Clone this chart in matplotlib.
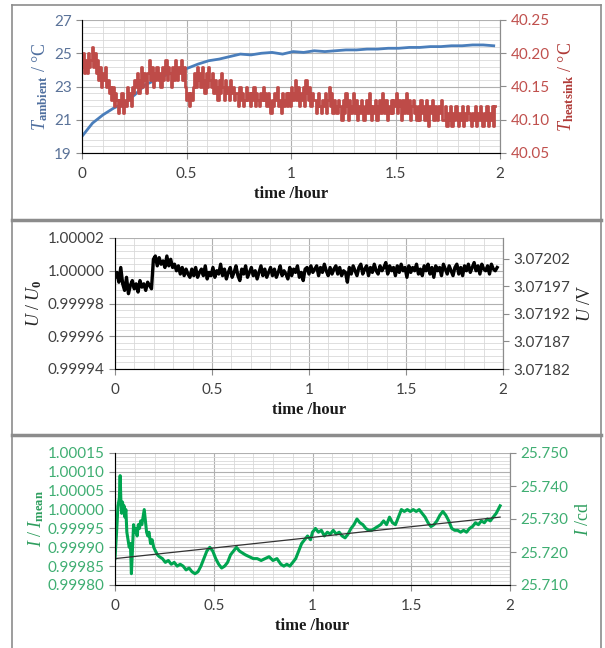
import numpy as np
import matplotlib
matplotlib.use('Agg')
import matplotlib.pyplot as plt
from matplotlib.ticker import MultipleLocator, FixedLocator, FormatStrFormatter
from matplotlib.lines import Line2D

# ---- panel 1: temperatures ----
t_amb = np.linspace(0, 1.97, 40)
T_ambient = [20.0, 20.8, 21.3, 21.7, 22.0, 22.5, 23.1, 23.4, 23.7, 23.9,
             24.1, 24.35, 24.55, 24.65, 24.8, 24.95, 24.9, 25.0, 25.05, 24.95,
             25.1, 25.05, 25.15, 25.1, 25.15, 25.2, 25.2, 25.25, 25.25, 25.3,
             25.3, 25.35, 25.35, 25.4, 25.4, 25.45, 25.45, 25.5, 25.5, 25.45]

T_heatsink = [
    40.18, 40.20, 40.17, 40.19, 40.17, 40.20, 40.18, 40.19, 40.21, 40.18, 40.20, 40.17, 40.19, 40.16, 40.18, 40.15, 40.17, 40.16, 40.18, 40.15,
    40.16, 40.14, 40.15, 40.13, 40.15, 40.12, 40.14, 40.13, 40.11, 40.13, 40.12, 40.14, 40.11, 40.13, 40.12, 40.15, 40.13, 40.14, 40.12, 40.15,
    40.14, 40.16, 40.15, 40.17, 40.14, 40.16, 40.18, 40.15, 40.17, 40.16, 40.14, 40.17, 40.19, 40.16, 40.18, 40.15, 40.17, 40.16, 40.18, 40.16,
    40.17, 40.15, 40.18, 40.16, 40.17, 40.19, 40.16, 40.18, 40.17, 40.15, 40.18, 40.16, 40.19, 40.17, 40.16, 40.18, 40.17, 40.19, 40.16, 40.18,
    40.15, 40.13, 40.14, 40.12, 40.14, 40.13, 40.15, 40.17, 40.15, 40.18, 40.16, 40.17, 40.15, 40.18, 40.16, 40.14, 40.17, 40.15, 40.18, 40.16,
    40.15, 40.17, 40.14, 40.16, 40.15, 40.13, 40.16, 40.14, 40.17, 40.15, 40.13, 40.16, 40.14, 40.15, 40.13, 40.16, 40.14, 40.15, 40.13, 40.14,
    40.14, 40.12, 40.15, 40.13, 40.14, 40.12, 40.13, 40.15, 40.13, 40.14, 40.12, 40.14, 40.13, 40.15, 40.12, 40.14, 40.13, 40.12, 40.14, 40.13,
    40.15, 40.13, 40.14, 40.12, 40.14, 40.13, 40.11, 40.13, 40.12, 40.14, 40.13, 40.15, 40.12, 40.13, 40.11, 40.14, 40.12, 40.13, 40.14, 40.12,
    40.14, 40.12, 40.15, 40.13, 40.14, 40.16, 40.13, 40.15, 40.12, 40.14, 40.13, 40.15, 40.12, 40.16, 40.14, 40.13, 40.15, 40.12, 40.14, 40.13,
    40.13, 40.11, 40.12, 40.14, 40.12, 40.11, 40.13, 40.12, 40.14, 40.11, 40.13, 40.15, 40.12, 40.14, 40.11, 40.13, 40.12, 40.11, 40.13, 40.12,
    40.12, 40.10, 40.13, 40.11, 40.14, 40.12, 40.10, 40.13, 40.11, 40.12, 40.14, 40.11, 40.13, 40.10, 40.12, 40.11, 40.13, 40.12, 40.10, 40.12,
    40.13, 40.11, 40.14, 40.12, 40.10, 40.12, 40.11, 40.13, 40.10, 40.12, 40.13, 40.11, 40.14, 40.12, 40.11, 40.13, 40.10, 40.12, 40.11, 40.13,
    40.11, 40.13, 40.12, 40.14, 40.11, 40.13, 40.12, 40.10, 40.13, 40.11, 40.12, 40.14, 40.11, 40.13, 40.10, 40.12, 40.13, 40.11, 40.12, 40.10,
    40.12, 40.10, 40.13, 40.11, 40.12, 40.10, 40.13, 40.11, 40.09, 40.12, 40.11, 40.13, 40.10, 40.12, 40.11, 40.10, 40.12, 40.11, 40.13, 40.10,
    40.10, 40.12, 40.09, 40.11, 40.10, 40.12, 40.09, 40.11, 40.10, 40.12, 40.10, 40.09, 40.11, 40.10, 40.12, 40.09, 40.11, 40.10, 40.12, 40.11,
    40.10, 40.09, 40.11, 40.10, 40.12, 40.09, 40.11, 40.10, 40.12, 40.11, 40.09, 40.11, 40.10, 40.12, 40.09, 40.11, 40.10, 40.12, 40.09, 40.12]
t_heat = np.linspace(0, 1.975, len(T_heatsink))

# ---- panel 2: voltage, deviation from U0 in ppm ----
U_ppm = [
    -4, -1, -7, 2, -8, -12, -4, -14, -9, -6, -11, -8, -13, -6, -10, -8, -12, -7, -9, -11,
    7, 9, 3, 8, 4, 6, 2, 9, 3, 7, 2, 4, 0, 3, -2, 2, -3, 1, -2, -4,
    1, -3, 2, -4, -1, 1, -3, 3, -5, -1, -3, 2, -4, 0, -2, 4, -3, 1, -5, -1,
    2, -4, -1, 3, -3, -6, 1, -2, 3, -4, -1, 2, -3, 0, -5, -1, 3, -3, 1, -4,
    -1, 2, -3, 1, -4, -1, 3, -3, 0, -2, -5, 2, -3, 1, -1, 3, -4, -1, -6, 1,
    2, -2, 3, -1, 1, 3, -3, 2, -1, 4, 0, -3, 2, -2, 1, 3, -2, 2, -3, 0,
    -1, -7, 2, -2, 3, 0, -3, 2, 4, -2, 1, 3, -3, 2, -1, 4, 0, -2, 3, 0,
    2, 5, -2, 3, 0, 2, -3, 3, -1, 4, 0, 2, -4, 3, -1, 2, 0, 4, -2, 1,
    -3, 3, 0, 4, -2, 2, -4, 3, 0, 2, -3, 4, 1, -2, 3, 0, -3, 2, 4, -2,
    2, -3, 3, 0, 4, -1, 2, 5, 0, 3, -2, 4, 1, 0, 3, -2, 4, 1, 0, 2]
t_U = np.linspace(0, 1.97, len(U_ppm))
U_ratio = 1 + np.array(U_ppm) * 1e-6

# ---- panel 3: luminous intensity, deviation from mean in ppm ----
t_I = [0.000, 0.008, 0.015, 0.022, 0.026, 0.030, 0.034, 0.038, 0.042, 0.046,
       0.050, 0.055, 0.060, 0.066, 0.072, 0.078, 0.083, 0.088, 0.094, 0.100,
       0.106, 0.112, 0.118, 0.124, 0.130, 0.136, 0.142, 0.148, 0.154, 0.160,
       0.166, 0.172, 0.180, 0.188, 0.196, 0.205, 0.215, 0.225, 0.240, 0.255,
       0.270, 0.285, 0.300, 0.315, 0.330, 0.345, 0.360, 0.375, 0.390, 0.405,
       0.420, 0.435, 0.450, 0.465, 0.480, 0.495, 0.510, 0.525, 0.540, 0.555,
       0.570, 0.585, 0.600, 0.615, 0.630, 0.645, 0.660, 0.680, 0.700, 0.720,
       0.740, 0.760, 0.780, 0.800, 0.820, 0.840, 0.855, 0.870, 0.885, 0.900,
       0.915, 0.930, 0.945, 0.960, 0.975, 0.990, 1.000, 1.015, 1.030, 1.045,
       1.060, 1.075, 1.090, 1.105, 1.120, 1.135, 1.150, 1.165, 1.180, 1.195,
       1.210, 1.225, 1.240, 1.255, 1.270, 1.285, 1.300, 1.315, 1.330, 1.345,
       1.360, 1.375, 1.390, 1.405, 1.420, 1.435, 1.450, 1.465, 1.480, 1.495,
       1.510, 1.525, 1.540, 1.555, 1.570, 1.585, 1.600, 1.615, 1.630, 1.645,
       1.660, 1.675, 1.690, 1.705, 1.720, 1.735, 1.750, 1.765, 1.780, 1.795,
       1.810, 1.825, 1.840, 1.855, 1.870, 1.885, 1.900, 1.915, 1.930, 1.950]
I_ppm = [-130, -60, 10, 30, 90, 20, -10, 20, 0, 10,
         -20, 0, -60, -80, -100, -90, -170, -110, -40, -60,
         -50, -70, -40, -50, -30, -40, -20, 0, -30, -60,
         -70, -60, -90, -80, -100, -110, -120, -125, -130, -140,
         -135, -145, -140, -150, -145, -150, -160, -155, -165, -170,
         -165, -150, -130, -110, -100, -110, -130, -145, -155, -150,
         -140, -120, -110, -100, -110, -115, -120, -125, -130, -130,
         -135, -130, -125, -135, -130, -145, -150, -145, -150, -140,
         -130, -110, -90, -80, -70, -80, -60, -50, -60, -55,
         -70, -60, -65, -55, -65, -60, -70, -75, -65, -50,
         -40, -25, -35, -40, -50, -55, -55, -50, -45, -40,
         -30, -40, -20, -35, -40, -20, 0, -5, 0, -5,
         0, -5, 0, -10, -20, -35, -45, -40, -30, -15,
         -5, -15, -30, -50, -55, -55, -60, -55, -60, -50,
         -45, -35, -40, -30, -35, -25, -30, -20, -10, 10]
I_ratio = 1 + np.array(I_ppm) * 1e-6
trend_t = [0.0, 1.95]
trend_ppm = [-130, -20]
trend_ratio = 1 + np.array(trend_ppm) * 1e-6

# ---- style ----
plt.rcParams['mathtext.fontset'] = 'custom'
plt.rcParams['mathtext.rm'] = 'Liberation Serif'
plt.rcParams['mathtext.it'] = 'Liberation Serif:italic'
plt.rcParams['mathtext.bf'] = 'Liberation Serif:bold'
plt.rcParams['font.family'] = ['Lato', 'DejaVu Sans']

W, H = 605, 648
fig = plt.figure(figsize=(W / 100, H / 100), dpi=100)


def box(x0, y0, x1, y1):
    # pixel box (top-left origin) -> figure fraction
    return [x0 / W, 1 - y1 / H, (x1 - x0) / W, (y1 - y0) / H]


def style(ax, ymaj, ymin, tickcol):
    ax.set_xlim(0, 2)
    ax.xaxis.set_major_locator(MultipleLocator(0.5))
    ax.xaxis.set_minor_locator(MultipleLocator(0.1))
    ax.yaxis.set_major_locator(ymaj)
    ax.yaxis.set_minor_locator(ymin)
    ax.grid(which='major', color='#b0b0b0', lw=0.8)
    ax.grid(which='minor', color='#d9d9d9', lw=0.6)
    ax.set_axisbelow(True)
    ax.spines['top'].set_visible(False)
    for s in ['left', 'right', 'bottom']:
        ax.spines[s].set_color('#8c8c8c')
    ax.tick_params(which='major', direction='out', length=4, color='#8c8c8c',
                   labelsize=11)
    ax.tick_params(which='minor', length=0)
    ax.tick_params(axis='y', labelcolor=tickcol)
    ax.tick_params(axis='x', labelcolor='#404040', pad=6)
    ax.xaxis.set_major_formatter(FormatStrFormatter('%g'))
    ax.set_xlabel('time /hour', family='Liberation Serif', fontweight='bold',
                  fontsize=12, color='#1a1a1a', labelpad=4)


def style_right(ax, tickcol):
    ax.spines['top'].set_visible(False)
    ax.spines['right'].set_color('#8c8c8c')
    ax.tick_params(which='major', direction='out', length=4, color='#8c8c8c',
                   labelsize=11, labelcolor=tickcol)
    ax.tick_params(which='minor', length=0)


lab_font = dict(family='Liberation Serif', fontsize=13)

# panel 1
ax1 = fig.add_axes(box(82, 20, 500, 153))
ax1.plot(t_amb, T_ambient, color='#4a7ebb', lw=2)
ax1.set_ylim(19, 27)
style(ax1, MultipleLocator(2, offset=1), MultipleLocator(0.4, offset=0.2), '#5b7399')
ax1.set_ylabel(r'$T_{\mathbf{ambient}}$ / °C', color='#4f6f9f', labelpad=3, **lab_font)
ax1r = ax1.twinx()
ax1r.plot(t_heat, T_heatsink, color='#be4b48', lw=2.0, drawstyle='steps-mid')
ax1r.set_ylim(40.05, 40.25)
ax1r.yaxis.set_major_locator(MultipleLocator(0.05))
ax1r.yaxis.set_major_formatter(FormatStrFormatter('%.2f'))
style_right(ax1r, '#c0504d')
ax1r.set_ylabel(r'$T_{\mathbf{heatsink}}$ / °C', color='#b03a37', labelpad=5, **lab_font)

# panel 2
ax2 = fig.add_axes(box(115, 238, 503, 369))
ax2.plot(t_U, U_ratio, color='black', lw=2.4)
ax2.set_ylim(0.99994, 1.00002)
style(ax2, MultipleLocator(0.00002), MultipleLocator(0.000004), '#404040')
ax2.yaxis.set_major_formatter(FormatStrFormatter('%.5f'))
ax2.set_ylabel(r'$U\ /\ U_{\mathbf{0}}$', color='#262626', labelpad=3, **lab_font)
ax2r = ax2.twinx()
ax2r.set_ylim(3.07182, 3.072058)
ax2r.yaxis.set_major_locator(FixedLocator([3.07182, 3.07187, 3.07192, 3.07197, 3.07202]))
ax2r.yaxis.set_major_formatter(FormatStrFormatter('%.5f'))
style_right(ax2r, '#404040')
ax2r.set_ylabel(r'$U$ /V', color='#262626', labelpad=5, **lab_font)

# panel 3
ax3 = fig.add_axes(box(115, 453, 510, 585))
ax3.plot(t_I, I_ratio, color='#00a550', lw=2.2)
ax3.plot(trend_t, trend_ratio, color='#333333', lw=0.9)
ax3.set_ylim(0.99980, 1.00015)
style(ax3, MultipleLocator(0.00005), MultipleLocator(0.00001), '#3fae72')
ax3.yaxis.set_major_formatter(FormatStrFormatter('%.5f'))
ax3.set_ylabel(r'$I\ /\ I_{\mathbf{mean}}$', color='#2e9e5e', labelpad=1, **lab_font)
ax3r = ax3.twinx()
ax3r.set_ylim(25.710, 25.750)
ax3r.yaxis.set_major_locator(MultipleLocator(0.010))
ax3r.yaxis.set_major_formatter(FormatStrFormatter('%.3f'))
style_right(ax3r, '#3fae72')
ax3r.set_ylabel(r'$I$ /cd', color='#2e9e5e', labelpad=5, **lab_font)

# panel frames
fc = '#8c8c8c'
for (xa, ya, xb, yb, lw) in [(12, 5, 601, 5, 1.2), (12, 5, 12, 648, 1.2),
                             (601, 5, 601, 648, 1.2), (12, 219.5, 601, 219.5, 2.5),
                             (12, 434.5, 601, 434.5, 2.5)]:
    fig.add_artist(Line2D([xa / W, xb / W], [1 - ya / H, 1 - yb / H],
                          color=fc, lw=lw, transform=fig.transFigure))

fig.savefig('out.png', dpi=100)
